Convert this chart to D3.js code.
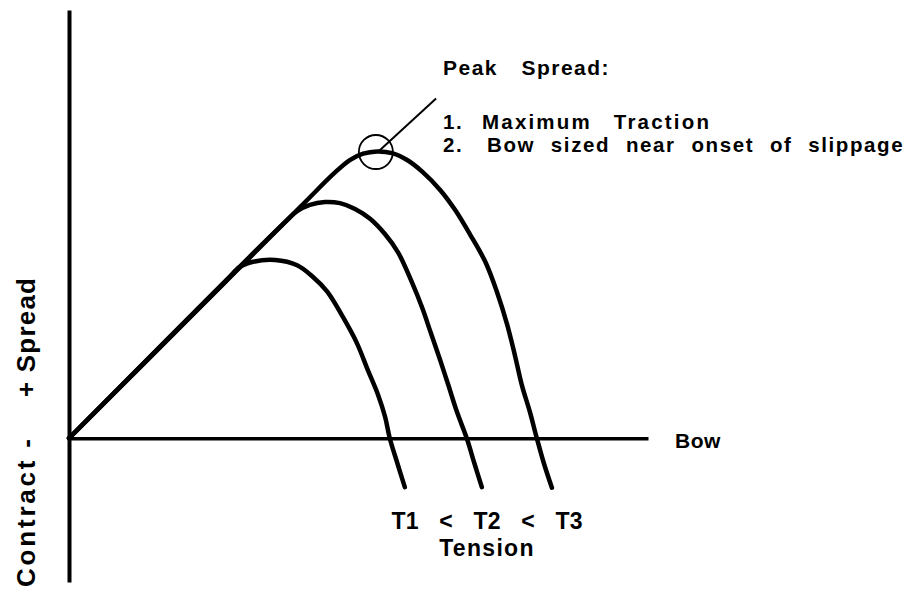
<!DOCTYPE html>
<html>
<head>
<meta charset="utf-8">
<script src="https://cdn.jsdelivr.net/npm/d3@7"></script>
<style>
  html, body { margin: 0; padding: 0; background: #fff; }
  svg { display: block; }
  text { font-family: "Liberation Sans", Arial, Helvetica, sans-serif; font-weight: bold; fill: #000; }
</style>
</head>
<body>
<div id="chart"></div>
<script>
// Curve data (bow, spread) in arbitrary units
const tensionNames = ['T1', 'T2', 'T3'];

const curveT1 = [[0, 0], [26.9, 27.1], [29.5, 29.8], [31.8, 30.7], [35.6, 31], [39.4, 30.1],
  [42.1, 28.1], [44.6, 25.5], [47.3, 21.1], [49.7, 16.6], [51.6, 11.9], [53.4, 7.5],
  [54.6, 3.7], [55.4, 0], [56.7, -4.3], [58, -8.5]];

const curveT2 = [[0, 0], [37.3, 37.6], [39.4, 39.5], [41.6, 40.6], [44.2, 41.1], [46.8, 40.9],
  [49.4, 39.9], [52, 38.2], [54.6, 35.5], [56.8, 32.4], [59.2, 27.2], [61, 22.7],
  [62.5, 18.3], [64.1, 13.6], [65.5, 9.3], [67, 4.6], [68.7, 0], [70, -4.3], [71.3, -8.5]];

const curveT3 = [[0, 0], [40, 40.3], [45.9, 46.2], [48.5, 48.4], [50.8, 49.5], [53.2, 49.9],
  [55.8, 49.6], [58.4, 48.4], [61.1, 46.3], [64.1, 43.2], [66.7, 39.7], [69.3, 35.4],
  [71.9, 30.7], [73.9, 25.5], [75.7, 19.7], [77, 14.5], [78.2, 9.3], [79.6, 4.6],
  [80.8, 0], [82, -4.3], [83.4, -8.6]];

const peakPoint = [53, 49.8];
const pointerEnd = [63.4, 59.1];

const peakTitle = 'Peak Spread:';
const peakNotes = ['Maximum Traction', 'Bow sized near onset of slippage'];

const width = 911;
const height = 592;

const svg = d3.select('#chart').append('svg')
  .attr('width', width)
  .attr('height', height);

const x = d3.scaleLinear().domain([0, 100]).range([69, 648]);
const y = d3.scaleLinear().domain([-25, 74.5]).range([582, 10]);

// axes: plain lines, no ticks
svg.append('g')
  .attr('transform', `translate(0,${y(0)})`)
  .call(d3.axisBottom(x).ticks(0).tickSizeOuter(0))
  .call(g => g.select('.domain').attr('stroke', '#000').attr('stroke-width', 3.5));

svg.append('g')
  .attr('transform', `translate(${x(0)},0)`)
  .call(d3.axisLeft(y).ticks(0).tickSizeOuter(0))
  .call(g => g.select('.domain').attr('stroke', '#000').attr('stroke-width', 4));

const line = d3.line()
  .x(d => x(d[0]))
  .y(d => y(d[1]))
  .curve(d3.curveCatmullRom.alpha(0.5));

svg.append('g')
  .selectAll('path')
  .data([curveT1, curveT2, curveT3])
  .join('path')
  .attr('d', line)
  .attr('fill', 'none')
  .attr('stroke', '#000')
  .attr('stroke-width', 4.5)
  .attr('stroke-linecap', 'round')
  .attr('stroke-linejoin', 'round');

// peak marker and pointer
svg.append('circle')
  .attr('cx', x(peakPoint[0]))
  .attr('cy', y(peakPoint[1]))
  .attr('r', 17)
  .attr('fill', 'none')
  .attr('stroke', '#000')
  .attr('stroke-width', 1.8);

svg.append('line')
  .attr('x1', x(peakPoint[0]) + 2)
  .attr('y1', y(peakPoint[1]))
  .attr('x2', x(pointerEnd[0]))
  .attr('y2', y(pointerEnd[1]))
  .attr('stroke', '#000')
  .attr('stroke-width', 2);

// annotation text
svg.append('text')
  .attr('x', 443)
  .attr('y', 75)
  .style('font-size', '21px')
  .style('letter-spacing', '1.5px')
  .style('word-spacing', '16px')
  .text(peakTitle);

const notes = svg.append('g')
  .style('font-size', '20.5px');

notes.selectAll('text.num')
  .data(peakNotes)
  .join('text')
  .attr('class', 'num')
  .attr('x', 443)
  .attr('y', (d, i) => 129 + i * 23)
  .style('letter-spacing', '1.6px')
  .text((d, i) => (i + 1) + '.');

notes.selectAll('text.note')
  .data(peakNotes)
  .join('text')
  .attr('class', 'note')
  .attr('x', (d, i) => i === 0 ? 482 : 487)
  .attr('y', (d, i) => 129 + i * 23)
  .style('letter-spacing', (d, i) => i === 0 ? '2.2px' : '1.6px')
  .style('word-spacing', (d, i) => i === 0 ? '14px' : '8.5px')
  .text(d => d);

svg.append('text')
  .attr('x', 675)
  .attr('y', 448)
  .style('font-size', '21px')
  .style('letter-spacing', '0.5px')
  .text('Bow');

// tension labels under the curve ends
const labelRow = svg.append('g')
  .style('font-size', '23px')
  .attr('text-anchor', 'middle');

labelRow.selectAll('text.t')
  .data(tensionNames)
  .join('text')
  .attr('class', 't')
  .attr('x', (d, i) => 405 + i * 82)
  .attr('y', 529)
  .text(d => d);

labelRow.selectAll('text.lt')
  .data([0, 1])
  .join('text')
  .attr('class', 'lt')
  .attr('x', d => 446 + d * 82)
  .attr('y', 529)
  .text('<');

svg.append('text')
  .attr('x', 487)
  .attr('y', 556)
  .attr('text-anchor', 'middle')
  .style('font-size', '23px')
  .style('letter-spacing', '1.3px')
  .text('Tension');

// vertical axis labels
svg.append('text')
  .attr('transform', 'translate(35,397) rotate(-90)')
  .style('font-size', '26px')
  .style('letter-spacing', '1.2px')
  .text('+ Spread');

svg.append('text')
  .attr('transform', 'translate(35,587) rotate(-90)')
  .style('font-size', '26px')
  .style('letter-spacing', '2.8px')
  .text('Contract -');
</script>
</body>
</html>
